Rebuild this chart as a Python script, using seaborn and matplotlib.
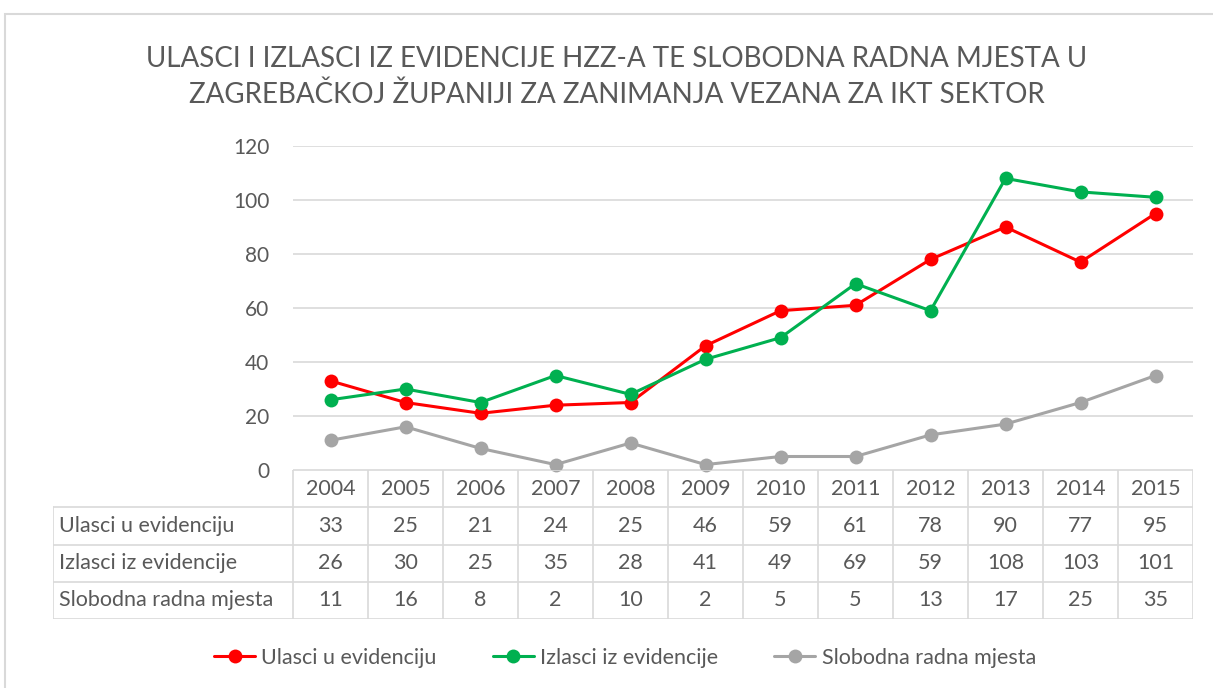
import numpy as np
import matplotlib
matplotlib.use("Agg")
import matplotlib.pyplot as plt
import seaborn as sns
import pandas as pd
from matplotlib.patches import Rectangle

# data
years = ['2004', '2005', '2006', '2007', '2008', '2009', '2010', '2011', '2012', '2013', '2014', '2015']
series_names = ['Ulasci u evidenciju', 'Izlasci iz evidencije', 'Slobodna radna mjesta']
ulasci = [33, 25, 21, 24, 25, 46, 59, 61, 78, 90, 77, 95]
izlasci = [26, 30, 25, 35, 28, 41, 49, 69, 59, 108, 103, 101]
slobodna = [11, 16, 8, 2, 10, 2, 5, 5, 13, 17, 25, 35]
colors = ['#FF0000', '#00B050', '#A5A5A5']
title = 'ULASCI I IZLASCI IZ EVIDENCIJE HZZ-A TE SLOBODNA RADNA MJESTA U\nZAGREBAČKOJ ŽUPANIJI ZA ZANIMANJA VEZANA ZA IKT SEKTOR'

values = [ulasci, izlasci, slobodna]
rows = []
for name, vals in zip(series_names, values):
    for i, v in enumerate(vals):
        rows.append({'idx': i, 'value': v, 'series': name})
df = pd.DataFrame(rows)

sns.set_theme(style='white')
plt.rcParams['font.family'] = ['Lato', 'DejaVu Sans']
txt = '#595959'
grid = '#D9D9D9'
fs = 15.5

W, H = 1213, 688
fig = plt.figure(figsize=(W / 100, H / 100), dpi=100)

# outer chart border
fig.patches.append(Rectangle((5 / W, -0.05), 1.1, 1 - 14 / H + 0.05, transform=fig.transFigure,
                             fill=False, edgecolor=grid, linewidth=1.5))

# main plot axes
x0, x1 = 293, 1193
y_top, y_zero = 146, 470
ax = fig.add_axes([x0 / W, 1 - y_zero / H, (x1 - x0) / W, (y_zero - y_top) / H])
sns.lineplot(data=df, x='idx', y='value', hue='series', hue_order=series_names,
             palette=colors, marker='o', markersize=10, markeredgewidth=0,
             linewidth=2.2, ax=ax, legend=False, clip_on=False)
ax.set_xlim(-0.5, len(years) - 0.5)
ax.set_ylim(0, 120)
ax.set_yticks(range(0, 121, 20))
ax.yaxis.grid(True, color=grid, linewidth=1.2)
ax.set_axisbelow(True)
ax.set_xticks([])
ax.set_xlabel('')
ax.set_ylabel('')
for s in ax.spines.values():
    s.set_visible(False)
ax.tick_params(axis='y', length=0, pad=17, labelsize=15, labelcolor=txt)

# data table below the plot
lab_left = 53
col_w = (x1 - x0) / len(years)
lab_cols = (x0 - lab_left) / col_w
t_bottom = 619
axt = fig.add_axes([lab_left / W, 1 - t_bottom / H, (x1 - lab_left) / W, (t_bottom - y_zero) / H])
axt.set_xlim(-0.5 - lab_cols, len(years) - 0.5)
axt.set_ylim(4, 0)
axt.axis('off')
lw = 1.2
# horizontal lines
axt.plot([-0.5, len(years) - 0.5], [0, 0], color=grid, lw=lw)
for r in range(1, 5):
    axt.plot([-0.5 - lab_cols, len(years) - 0.5], [r, r], color=grid, lw=lw)
# vertical lines
axt.plot([-0.5 - lab_cols] * 2, [1, 4], color=grid, lw=lw)
for c in range(len(years) + 1):
    axt.plot([c - 0.5] * 2, [0, 4], color=grid, lw=lw)
for i, y in enumerate(years):
    axt.text(i, 0.5, y, ha='center', va='center', fontsize=fs, color=txt)
for r, (name, vals) in enumerate(zip(series_names, values), start=1):
    axt.text(-0.5 - lab_cols + 0.08, r + 0.5, name, ha='left', va='center', fontsize=fs, color=txt)
    for i, v in enumerate(vals):
        axt.text(i, r + 0.5, str(v), ha='center', va='center', fontsize=fs, color=txt)

# title
fig.text(617 / W, 1 - 77 / H, title, ha='center', va='center', fontsize=20,
         color=txt, linespacing=1.4)

# legend
handles = [plt.Line2D([], [], color=c, marker='o', markersize=10, markeredgewidth=0, linewidth=2.2)
           for c in colors]
fig.legend(handles, series_names, loc='center', bbox_to_anchor=(625 / W, 1 - 658 / H), ncol=3,
           frameon=False, fontsize=fs, labelcolor=txt, handlelength=1.9, columnspacing=2.6,
           handletextpad=0.3)

fig.savefig('out.png', dpi=100)
